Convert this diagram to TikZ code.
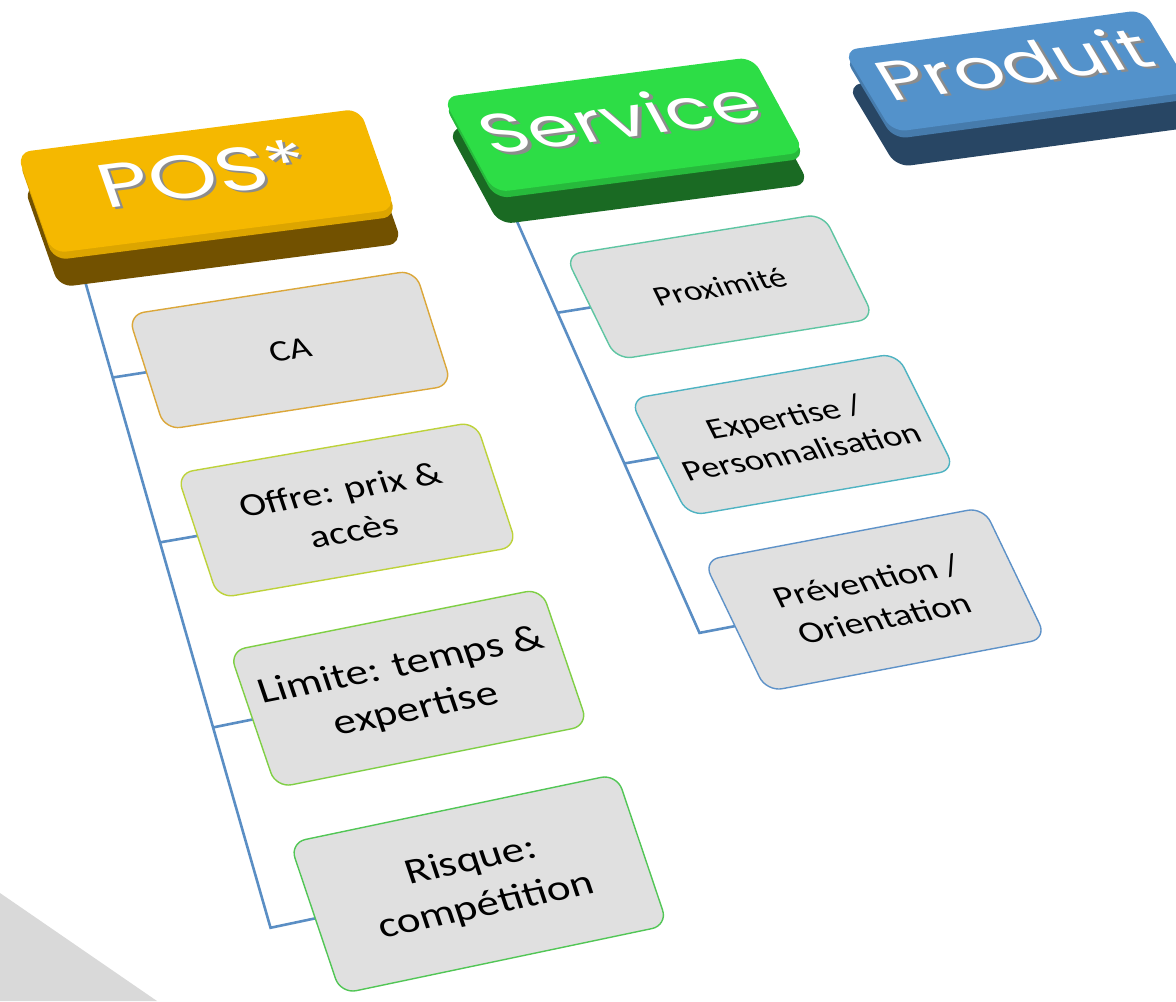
\documentclass[tikz,border=0pt]{standalone}
\usepackage{fontspec}
\newfontfamily\keyfont{Poppins}
\newfontfamily\cardfont{Carlito}
\usetikzlibrary{calc,backgrounds}

\definecolor{posTop}{HTML}{F5B800}
\definecolor{posBevel}{HTML}{DCA500}
\definecolor{posSide}{HTML}{725100}
\definecolor{svcTop}{HTML}{2DDD46}
\definecolor{svcBevel}{HTML}{27BA3C}
\definecolor{svcSide}{HTML}{1A6A23}
\definecolor{prdTop}{HTML}{5392CB}
\definecolor{prdBevel}{HTML}{467BAC}
\definecolor{prdSide}{HTML}{284664}
\definecolor{cardFill}{HTML}{E0E0E0}
\definecolor{linkBlue}{HTML}{5A8EC4}
\definecolor{floorGray}{HTML}{D9D9D9}
\definecolor{caEdge}{HTML}{DBA73A}
\definecolor{offreEdge}{HTML}{BDD23A}
\definecolor{limiteEdge}{HTML}{7FCF45}
\definecolor{risqueEdge}{HTML}{52C656}
\definecolor{proxEdge}{HTML}{5EC5A2}
\definecolor{expEdge}{HTML}{4FB3C2}
\definecolor{prevEdge}{HTML}{5E92C8}

\newcommand\px{0.025cm}
\newcommand\embossed[1]{\rlap{\kern1.6pt\raisebox{-2.4pt}{\color{black!45}#1}}#1}

\tikzset{
  key/.style={rounded corners=0.35cm, outer sep=0pt, inner sep=0pt},
  keytext/.style={text=white, font=\keyfont\fontsize{#1}{60}\selectfont, text depth=16pt},
  card/.style 2 args={draw, line width=0.035cm, fill=cardFill, rounded corners=0.4cm,
    outer sep=0pt, inner sep=0pt, align=center, font=\cardfont\fontsize{#1}{#2}\selectfont},
  link/.style={draw=linkBlue, line width=0.065cm},
  posshape/.style={minimum width=343*\px, minimum height=144*\px, cm={1,0.128,-0.245,0.7,(0,0)}},
  svcshape/.style={minimum width=310*\px, minimum height=136*\px, cm={1,0.13,-0.38,0.7,(0,0)}},
  prdshape/.style={minimum width=300*\px, minimum height=117*\px, cm={1,0.135,-0.42,0.7,(0,0)}},
}

\begin{document}
\begin{tikzpicture}[x=\px, y=-\px]
  \useasboundingbox (0,0) rectangle (1176,1001);
  \clip (0,0) rectangle (1176,1001);

  \fill[floorGray] (0,893) -- (157,1001) -- (0,1001) -- cycle;

  % keys
  \node[key, posshape, fill=posSide] (posbase) at (213,215) {};
  \fill[posSide] (posbase.west) -- (posbase.east) -- ++(-7,-34) -- ($(posbase.west)+(-7,-34)$) -- cycle;
  \node[key, posshape, fill=posBevel] (posbevel) at (207.5,188) {};
  \node[key, posshape, keytext=61, fill=posTop] (pos) at (206,181) {\embossed{POS*}};

  \node[key, svcshape, fill=svcSide] (svcbase) at (628.5,156.75) {};
  \fill[svcSide] (svcbase.west) -- (svcbase.east) -- ++(-5,-32) -- ($(svcbase.west)+(-5,-32)$) -- cycle;
  \node[key, svcshape, fill=svcBevel] (svcbevel) at (624.5,131) {};
  \node[key, svcshape, keytext=54, fill=svcTop] (svc) at (623.5,124.75) {\embossed{Service}};

  \node[key, prdshape, fill=prdSide] (prdbase) at (1022,106) {};
  \fill[prdSide] (prdbase.west) -- (prdbase.east) -- ++(-4,-35) -- ($(prdbase.west)+(-4,-35)$) -- cycle;
  \node[key, prdshape, fill=prdBevel] (prdbevel) at (1019,78) {};
  \node[key, prdshape, keytext=54, fill=prdTop] (prd) at (1018,71) {\embossed{Produit}};

  % cards
  \node[card={26}{32}, draw=caEdge, minimum width=287*\px, minimum height=144*\px,
    cm={1,0.155,-0.254,0.8,(0,0)}] (ca) at (290,350) {CA};
  \node[card={28}{36}, draw=offreEdge, minimum width=299*\px, minimum height=156*\px,
    cm={1,0.173,-0.264,0.8,(0,0)}] (offre) at (347,510) {Offre: prix \&\\accès};
  \node[card={31}{39}, draw=limiteEdge, minimum width=312*\px, minimum height=171*\px,
    cm={1,0.2,-0.272,0.8,(0,0)}] (limite) at (408.75,688.25) {Limite: temps \&\\expertise};
  \node[card={31}{40}, draw=risqueEdge, minimum width=327*\px, minimum height=189*\px,
    cm={1,0.21,-0.269,0.8,(0,0)}] (risque) at (478.75,884) {Risque:\\compétition};

  \node[card={24}{30}, draw=proxEdge, minimum width=258*\px, minimum height=131*\px,
    cm={1,0.16,-0.392,0.8,(0,0)}] (prox) at (719.75,286.75) {Proximité};
  \node[card={25}{31}, draw=expEdge, minimum width=267*\px, minimum height=146*\px,
    cm={1,0.172,-0.4,0.8,(0,0)}] (exp) at (792.5,434.5) {Expertise /\\Personnalisation};
  \node[card={26}{33}, draw=prevEdge, minimum width=280*\px, minimum height=164*\px,
    cm={1,0.19,-0.384,0.8,(0,0)}] (prev) at (875,599.5) {Prévention /\\Orientation};

  \begin{scope}[on background layer]
    \coordinate (posroot) at ($(pos.south west)!0.07!(pos.south east)$);
    \coordinate (posaim) at ($(posroot)+(200,697)$);
    \coordinate (posfoot) at (intersection of posroot--posaim and risque.west--risque.east);
    \draw[link] (posroot) -- (posfoot) -- (risque.west);
    \foreach \cname in {ca,offre,limite}
      \draw[link] (\cname.west) -- (intersection of posroot--posaim and \cname.west--\cname.east);

    \coordinate (svcroot) at ($(svc.south west)!0.03!(svc.south east)$);
    \coordinate (svcaim) at ($(svcroot)+(200,451)$);
    \coordinate (svcfoot) at (intersection of svcroot--svcaim and prev.west--prev.east);
    \draw[link] (svcroot) -- (svcfoot) -- (prev.west);
    \foreach \cname in {prox,exp}
      \draw[link] (\cname.west) -- (intersection of svcroot--svcaim and \cname.west--\cname.east);
  \end{scope}
\end{tikzpicture}
\end{document}
